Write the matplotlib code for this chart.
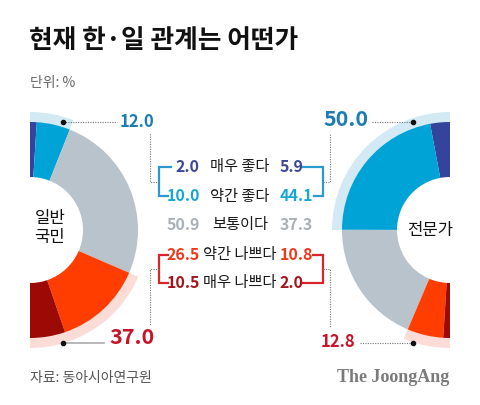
import matplotlib
matplotlib.use('Agg')
import matplotlib.pyplot as plt
from matplotlib.patches import Wedge

plt.rcParams['font.family'] = ['Noto Sans CJK KR', 'DejaVu Sans']

# ---- data ----
categories = ['매우 좋다', '약간 좋다', '보통이다', '약간 나쁘다', '매우 나쁘다']
public = [2.0, 10.0, 50.9, 26.5, 10.5]
experts = [5.9, 44.1, 37.3, 10.8, 2.0]
public_good, public_bad = 12.0, 37.0
experts_good, experts_bad = 50.0, 12.8
group_labels = ['일반\n국민', '전문가']
title = '현재 한·일 관계는 어떤가'
unit = '단위: %'
source = '자료: 동아시아연구원'

seg_colors = ['#34449c', '#00a3d6', '#b9c3cb', '#ff3d00', '#9c0a06']
txt_colors = ['#3a4796', '#17a6d6', '#a9b1b8', '#ee3a1a', '#a5121a']
band_blue = '#d3eaf5'
band_pink = '#fbdcd6'
blue_tot = '#1d7db3'
red_tot = '#c8142a'

fig = plt.figure(figsize=(4.8, 4.05), dpi=100)
ax = fig.add_axes([0, 0, 1, 1])
ax.set_xlim(0, 480)
ax.set_ylim(405, 0)
ax.axis('off')

R, W = 108, 55
RB, WB = 118, 14

# left donut (public): right half, top -> bottom clockwise on screen
cL = (30, 230)
ax.add_patch(Wedge(cL, RB, -90, -90 + public_good * 1.8, width=WB, color=band_blue, lw=0))
ax.add_patch(Wedge(cL, RB, 90 - public_bad * 1.8, 90, width=WB, color=band_pink, lw=0))
tot = sum(public)
a = -90.0
for v, c in zip(public, seg_colors):
    span = v / tot * 180
    ax.add_patch(Wedge(cL, R, a, a + span, width=W, color=c, lw=0))
    a += span

# right donut (experts): left half, top -> bottom counter-clockwise on screen
cR = (450, 230)
ax.add_patch(Wedge(cR, RB, -90 - experts_good * 1.8, -90, width=WB, color=band_blue, lw=0))
ax.add_patch(Wedge(cR, RB, 90, 90 + experts_bad * 1.8, width=WB, color=band_pink, lw=0))
tot = sum(experts)
a = -90.0
for v, c in zip(experts, seg_colors):
    span = v / tot * 180
    ax.add_patch(Wedge(cR, R, a - span, a, width=W, color=c, lw=0))
    a -= span

ax.text(50, 228, group_labels[0], ha='center', va='center', fontsize=12,
        color='#111', linespacing=1.15)
ax.text(430, 230, group_labels[1], ha='center', va='center', fontsize=12, color='#111')

# middle table
rows_y = [167, 196, 225, 255, 283]
for i, y in enumerate(rows_y):
    ax.text(240, y, categories[i], ha='center', va='center', fontsize=11, color='#1a1a1a')
    ax.text(200, y, f'{public[i]:.1f}', ha='right', va='center', fontsize=11.5,
            color=txt_colors[i], fontweight='bold')
    ax.text(280, y, f'{experts[i]:.1f}', ha='left', va='center', fontsize=11.5,
            color=txt_colors[i], fontweight='bold')

blue_br = '#2a9ad0'
red_br = '#d8262a'
lwb = 1.6
# left brackets
ax.plot([171, 159, 159, 168], [rows_y[0], rows_y[0], rows_y[1], rows_y[1]], color=blue_br, lw=lwb,
        solid_joinstyle='miter')
ax.plot([168, 159, 159, 168], [rows_y[3], rows_y[3], rows_y[4], rows_y[4]], color=red_br, lw=lwb,
        solid_joinstyle='miter')
# right brackets
ax.plot([303, 323, 323, 314], [rows_y[0], rows_y[0], rows_y[1], rows_y[1]], color=blue_br, lw=lwb,
        solid_joinstyle='miter')
ax.plot([313, 323, 323, 301], [rows_y[3], rows_y[3], rows_y[4], rows_y[4]], color=red_br, lw=lwb,
        solid_joinstyle='miter')

dot_kw = dict(color='#777', lw=0.8, ls=(0, (1, 1.2)))
mb = (rows_y[0] + rows_y[1]) / 2
mr = (rows_y[3] + rows_y[4]) / 2
# left connectors
ax.plot([159, 150, 150], [mb, mb, 133], **dot_kw)
ax.plot([159, 150, 150], [mr, mr, 326], **dot_kw)
ax.plot([63, 117], [122, 122], **dot_kw)
ax.plot([63, 104], [343, 343], color='#aaa', lw=1.2)
# right connectors
ax.plot([323, 330, 330], [mb, mb, 133], **dot_kw)
ax.plot([323, 330, 330], [mr, mr, 328], **dot_kw)
ax.plot([372, 413], [122, 122], **dot_kw)
ax.plot([360, 413], [343, 343], **dot_kw)
for (x, y) in [(63, 122), (63, 343), (413, 122), (413, 343)]:
    ax.plot([x], [y], 'o', color='#111', ms=3)

ax.text(120, 122, f'{public_good:.1f}', ha='left', va='center', fontsize=12,
        color=blue_tot, fontweight='bold')
ax.text(109, 338, f'{public_bad:.1f}', ha='left', va='center', fontsize=15.5,
        color=red_tot, fontweight='bold')
ax.text(369, 120, f'{experts_good:.1f}', ha='right', va='center', fontsize=15.5,
        color=blue_tot, fontweight='bold')
ax.text(355, 342, f'{experts_bad:.1f}', ha='right', va='center', fontsize=12,
        color=red_tot, fontweight='bold')

# titles
ax.text(29, 41, title, ha='left', va='center', fontsize=18.5, fontweight='heavy', color='#111')
ax.text(30, 83, unit, ha='left', va='center', fontsize=10, color='#666')
ax.text(30, 378, source, ha='left', va='center', fontsize=10, color='#555')
ax.text(449, 378, 'The JoongAng', ha='right', va='center', fontsize=13, fontweight='bold',
        color='#7a7a7a', family=['Liberation Serif', 'DejaVu Serif'])

fig.savefig('out.png', dpi=100)
